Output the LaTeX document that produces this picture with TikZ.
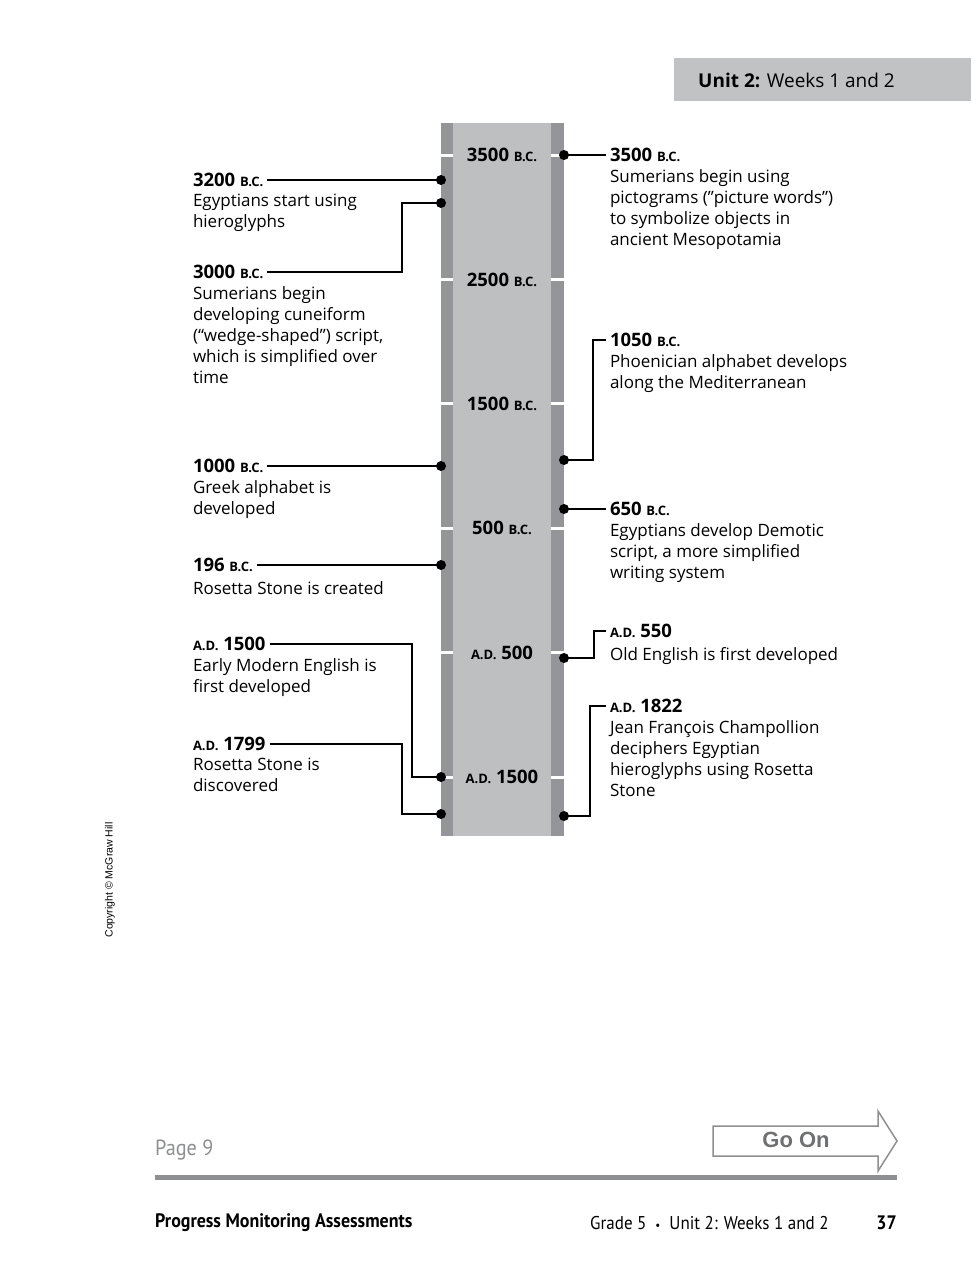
\documentclass[tikz,border=0pt]{standalone}
\usepackage{fontspec}
\setmainfont{Open Sans}
\newfontfamily\footfont[FakeStretch=0.92]{PT Sans}
\newfontfamily\arialfont{Liberation Sans}
\usepackage{tikz}
\usetikzlibrary{arrows.meta, positioning, calc}
\usepackage{xcolor}
\definecolor{barside}{HTML}{939598}
\definecolor{barmid}{HTML}{BDBFC1}
\definecolor{tabgray}{HTML}{C1C2C4}
\definecolor{rulegray}{HTML}{8E8F91}
\definecolor{gotext}{HTML}{6F7072}
\newcommand{\bcera}{{\fontsize{13}{13}\selectfont B.C.}}
\newcommand{\adera}{{\fontsize{13}{13}\selectfont A.D.}}
\tikzset{
  evhead/.style={inner sep=0pt, outer xsep=4pt, text depth=0pt, anchor=west,
                 font=\fontsize{18.5}{21}\selectfont\bfseries},
  evbody/.style={inner sep=0pt, outer xsep=4pt, anchor=north west, align=left,
                 font=\fontsize{17}{21}\selectfont, execute at begin node=\strut},
  evdot/.style={circle, fill=black, inner sep=0pt, minimum size=10pt},
  link/.style={line width=1.8pt},
  barlabel/.style={inner sep=0pt, font=\fontsize{18.5}{21}\selectfont\bfseries},
  barmark/.style={white, line width=3pt},
  footnote/.style={inner sep=0pt, anchor=west, font=\footfont\fontsize{19.5}{22}\selectfont},
}

\begin{document}
\begin{tikzpicture}[x=1pt, y=-1pt]
  \useasboundingbox (0,0) rectangle (979,1266);
  % header tab
  \fill[tabgray] (674,58) rectangle (971,101);
  \node[anchor=west, inner sep=0pt, font=\fontsize{19}{21}\selectfont] (unit) at (698,80)
    {\textbf{Unit 2:} Weeks 1 and 2};

  % the time bar
  \fill[barside] (441,123) rectangle (564,836);
  \fill[barmid] (453,123) rectangle (551,836);
  \foreach \y/\era [count=\i] in {155/{3500 \bcera}, 279.4/{2500 \bcera},
      403.8/{1500 \bcera}, 528.2/{500 \bcera}, 652.6/{\adera{} 500}, 777/{\adera{} 1500}}{
    \draw[barmark] (441,\y) -- (453,\y) (551,\y) -- (564,\y);
    \node[barlabel] (era\i) at (502,\y) {\era};
  }

  % left events
  \node[evhead] (h3200) at (189,180) {3200 \bcera};
  \node[evbody] (b3200) at ([yshift=-7.5pt]h3200.base west) {Egyptians start using\\hieroglyphs};
  \node[evhead] (h3000) at (189,272) {3000 \bcera};
  \node[evbody] (b3000) at ([yshift=-7.5pt]h3000.base west)
    {Sumerians begin\\developing cuneiform\\(“wedge-shaped”) script,\\which is simplified over\\time};
  \node[evhead] (h1000) at (189,466) {1000 \bcera};
  \node[evbody] (b1000) at ([yshift=-7.5pt]h1000.base west) {Greek alphabet is\\developed};
  \node[evhead] (h196) at (189,565) {196 \bcera};
  \node[evbody] (b196) at ([yshift=-7.5pt]h196.base west) {Rosetta Stone is created};
  \node[evhead] (h1500) at (189,644) {\adera{} 1500};
  \node[evbody] (b1500) at ([yshift=-7.5pt]h1500.base west) {Early Modern English is\\first developed};
  \node[evhead] (h1799) at (189,744) {\adera{} 1799};
  \node[evbody] (b1799) at ([yshift=-7.5pt]h1799.base west) {Rosetta Stone is\\discovered};

  % right events
  \node[evhead] (h3500) at (606,155) {3500 \bcera};
  \node[evbody] (b3500) at ([yshift=-7.5pt]h3500.base west)
    {Sumerians begin using\\pictograms (”picture words”)\\to symbolize objects in\\ancient Mesopotamia};
  \node[evhead] (h1050) at (606,340) {1050 \bcera};
  \node[evbody] (b1050) at ([yshift=-7.5pt]h1050.base west) {Phoenician alphabet develops\\along the Mediterranean};
  \node[evhead] (h650) at (606,509) {650 \bcera};
  \node[evbody] (b650) at ([yshift=-7.5pt]h650.base west)
    {Egyptians develop Demotic\\script, a more simplified\\writing system};
  \node[evhead] (h550) at (606,631) {\adera{} 550};
  \node[evbody] (b550) at ([yshift=-7.5pt]h550.base west) {Old English is first developed};
  \node[evhead] (h1822) at (606,706) {\adera{} 1822};
  \node[evbody] (b1822) at ([yshift=-7.5pt]h1822.base west)
    {Jean François Champollion\\deciphers Egyptian\\hieroglyphs using Rosetta\\Stone};

  % dots on the bar
  \node[evdot] (d3200) at (441,180) {};
  \node[evdot] (d3000) at (441,203) {};
  \node[evdot] (d1000) at (441,466) {};
  \node[evdot] (d196) at (441,565) {};
  \node[evdot] (d1500) at (441,777) {};
  \node[evdot] (d1799) at (441,814) {};
  \node[evdot] (d3500) at (564,155) {};
  \node[evdot] (d1050) at (564,460) {};
  \node[evdot] (d650) at (564,509) {};
  \node[evdot] (d550) at (564,658) {};
  \node[evdot] (d1822) at (564,816) {};
  \coordinate (k3000) at (402,203);
  \coordinate (k1500) at (412,777);
  \coordinate (k1799) at (402,814);
  \coordinate (k1050) at (593,340);
  \coordinate (k550) at (594,631);
  \coordinate (k1822) at (590,706);

  % links
  \draw[link] (h3200.east) -- (d3200.center);
  \draw[link] (h3000.east) -| (k3000) -- (d3000.center);
  \draw[link] (h1000.east) -- (d1000.center);
  \draw[link] (h196.east) -- (d196.center);
  \draw[link] (h1500.east) -| (k1500) -- (d1500.center);
  \draw[link] (h1799.east) -| (k1799) -- (d1799.center);
  \draw[link] (d3500.center) -- (h3500.west);
  \draw[link] (d1050.center) -| (k1050) -- (h1050.west);
  \draw[link] (d650.center) -- (h650.west);
  \draw[link] (d550.center) -| (k550) -- (h550.west);
  \draw[link] (d1822.center) -| (k1822) -- (h1822.west);

  % side note
  \node[rotate=90, inner sep=0pt, font=\arialfont\fontsize{10.5}{12}\selectfont] (copy) at (110,880)
    {Copyright © McGraw Hill};

  % footer
  \node[footnote, text=rulegray, font=\footfont\fontsize{22}{24}\selectfont] (page) at (155,1150) {Page 9};
  \draw[rulegray, line width=1.5pt, line join=miter]
    (713,1126) -- (878,1126) -- (878,1111) -- (897,1141) -- (878,1171) -- (878,1156) -- (713,1156) -- cycle;
  \node[inner sep=0pt, text=gotext, font=\arialfont\bfseries\fontsize{22}{24}\selectfont] (goon) at (796,1140) {Go On};
  \fill[rulegray] (155,1175) rectangle (897,1180);
  \node[footnote, font=\footfont\bfseries\fontsize{19.5}{22}\selectfont] (series) at (155,1223) {Progress Monitoring Assessments};
  \node[footnote, font=\footfont\fontsize{18.5}{22}\selectfont] (grade) at (590,1223)
    {Grade 5\hspace{9pt}{\fontsize{12}{12}\selectfont\textbullet}\hspace{9pt}Unit 2: Weeks 1 and 2};
  \node[footnote, anchor=east, font=\footfont\bfseries\fontsize{19.5}{22}\selectfont] (pgno) at (897,1223) {37};
\end{tikzpicture}
\end{document}
